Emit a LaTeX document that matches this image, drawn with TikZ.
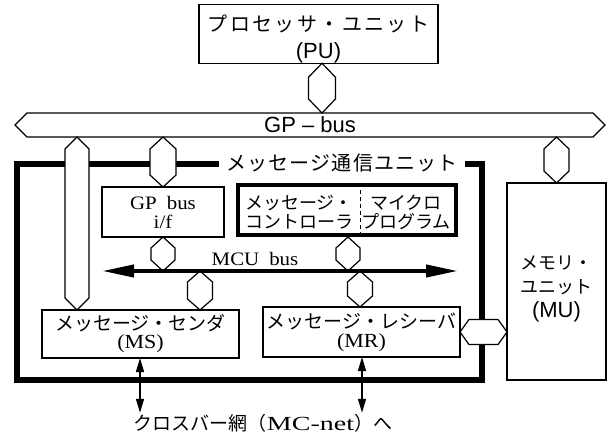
\documentclass[tikz,border=0pt]{standalone}
\usepackage{fontspec}
\setmainfont{Liberation Serif}[FakeStretch=1.1]
\newfontfamily\jp{Noto Sans CJK JP}
\newfontfamily\jpw[LetterSpace=12]{Noto Sans CJK JP}
\newfontfamily\lsans{Liberation Sans}
\newfontfamily\wideserif{Liberation Serif}[FakeStretch=1.4]
\usetikzlibrary{arrows.meta,calc}
\newcommand\fs[2]{\fontsize{#1}{#2}\selectfont}
\newcommand\vhex[4]{\filldraw[hexline] (#1) -- ($(#1)+(#3,#4)$) -- ($(#2)+(#3,-#4)$) -- (#2) -- ($(#2)+(-#3,-#4)$) -- ($(#1)+(-#3,#4)$) -- cycle;}
\newcommand\hhex[4]{\filldraw[hexline] (#1) -- ($(#1)+(#4,-#3)$) -- ($(#2)+(-#4,-#3)$) -- (#2) -- ($(#2)+(-#4,#3)$) -- ($(#1)+(#4,#3)$) -- cycle;}
\begin{document}
\begin{tikzpicture}[x=1pt,y=-1pt,
  box/.style={draw,line width=1.2pt,inner sep=0pt,outer sep=0pt,align=center},
  cbox/.style={draw,line width=4pt,inner sep=0pt,outer sep=2pt},
  txt/.style={inner sep=0pt,align=center},
  frameline/.style={line width=5.5pt},
  hexline/.style={draw,fill=white,line width=1.2pt},
  busarrow/.style={line width=4pt,{Triangle[length=32pt,width=12pt]}-{Triangle[length=32pt,width=12pt]}},
  netarrow/.style={line width=1.5pt,{Triangle[length=14pt,width=8pt]}-{Triangle[length=14pt,width=8pt]}},
]
\useasboundingbox (0,0) rectangle (610,439);

% helper coordinates
\coordinate (busT) at (0,113);
\coordinate (busB) at (0,137);
\coordinate (xPU) at (322,0);
\coordinate (xL) at (77,0);
\coordinate (xC) at (348,0);
\coordinate (xMS) at (200,0);
\coordinate (xMR) at (360,0);
\coordinate (xD) at (360,0);
\coordinate (xA1) at (140,0);
\coordinate (xA2) at (362,0);
\coordinate (mcuL) at (102,271);
\coordinate (mcuR) at (458,271);

% message communication unit frame
\draw[frameline] (17,164) rectangle (482,380);
\node[fill=white,inner sep=0pt,minimum width=246pt,minimum height=20pt,
      font={\jp\addfontfeature{LetterSpace=6}\fs{20}{20}}] (MCUlbl) at (342,163) {メッセージ通信ユニット};

% boxes
\node[box,minimum width=239pt,minimum height=58pt,font=\fs{20}{27}] (PU) at (318.5,34)
  {\rule{0pt}{27pt}{\jpw プロセッサ・ユニット}\\{\lsans\fs{22}{27}(PU)}};
\node[box,minimum width=122pt,minimum height=50pt,font=\fs{19}{19}] (IF) at (163,212)
  {GP\hspace{10pt}bus\\i/f};
\node[cbox,minimum width=218pt,minimum height=50pt] (CTRL) at (347,210) {};
\draw[dashed,dash pattern=on 4pt off 3pt,line width=1pt] (CTRL.north -| xD) -- (CTRL.south -| xD);
\node[txt,font={\jp\fs{18}{19}}] (CTRLa) at (299,212) {メッセージ・\\コントローラ};
\node[txt,font={\jp\fs{18}{19}}] (CTRLb) at (406,212) {マイクロ\\プログラム};
\node[box,minimum width=99pt,minimum height=197pt,font={\jp\fs{18}{24}}] (MU) at (556.5,281.5)
  {\rule{0pt}{29pt}メモリ・\\ユニット\\{\lsans\fs{22}{26}(MU)}};
\node[box,minimum width=197pt,minimum height=48pt,font=\fs{19}{18}] (MS) at (140.5,334)
  {{\jp メッセージ・センダ}\\{\fs{20}{18}(MS)}};
\node[box,minimum width=197pt,minimum height=50pt,font=\fs{19}{19}] (MR) at (361.5,332)
  {{\jp メッセージ・レシーバ}\\{\fs{20}{19}(MR)}};

% GP-bus
\filldraw[hexline] (15,125) -- (27,113) -- (593,113) -- (605,125) -- (593,137) -- (27,137) -- cycle;
\node[txt,font={\lsans\fs{22}{22}}] (GPB) at (310,125) {GP – bus};

% hex connectors
\coordinate (h1a) at (xPU |- PU.south);  \coordinate (h1b) at (xPU |- busT);
\coordinate (h2a) at (xL |- busB);       \coordinate (h2b) at (xL |- MS.north);
\coordinate (h3a) at (IF.north |- busB);
\coordinate (h4a) at (MU.north |- busB);
\coordinate (h5b) at (IF.south |- mcuL);
\coordinate (h6a) at (xC |- CTRL.south); \coordinate (h6b) at (xC |- mcuL);
\coordinate (h7a) at (xMS |- mcuL);      \coordinate (h7b) at (xMS |- MS.north);
\coordinate (h8a) at (xMR |- mcuL);      \coordinate (h8b) at (xMR |- MR.north);
\vhex{h1a}{h1b}{13.5}{14}
\vhex{h2a}{h2b}{12}{12}
\vhex{h3a}{IF.north}{13}{12}
\vhex{h4a}{MU.north}{12.5}{12}
\vhex{IF.south}{h5b}{12}{11}
\vhex{h6a}{h6b}{12}{11}
\vhex{h7a}{h7b}{12.5}{11}
\vhex{h8a}{h8b}{12.5}{11}
\hhex{MR.east}{MU.west |- MR.east}{12.5}{9}

% MCU bus
\draw[busarrow] (mcuL) -- (mcuR);
\node[txt,font=\fs{19}{19}] (MCUB) at (255,259) {MCU\hspace{10pt}bus};

% to crossbar network
\node[inner sep=1pt,font={\jp\fs{19}{19}}] (NET) at (263,423)
  {クロスバー網（{\wideserif\fs{20}{19}MC-net}）へ};
\draw[netarrow] (MS.south -| xA1) -- (NET.north -| xA1);
\draw[netarrow] (MR.south -| xA2) -- (NET.north -| xA2);
\end{tikzpicture}
\end{document}
